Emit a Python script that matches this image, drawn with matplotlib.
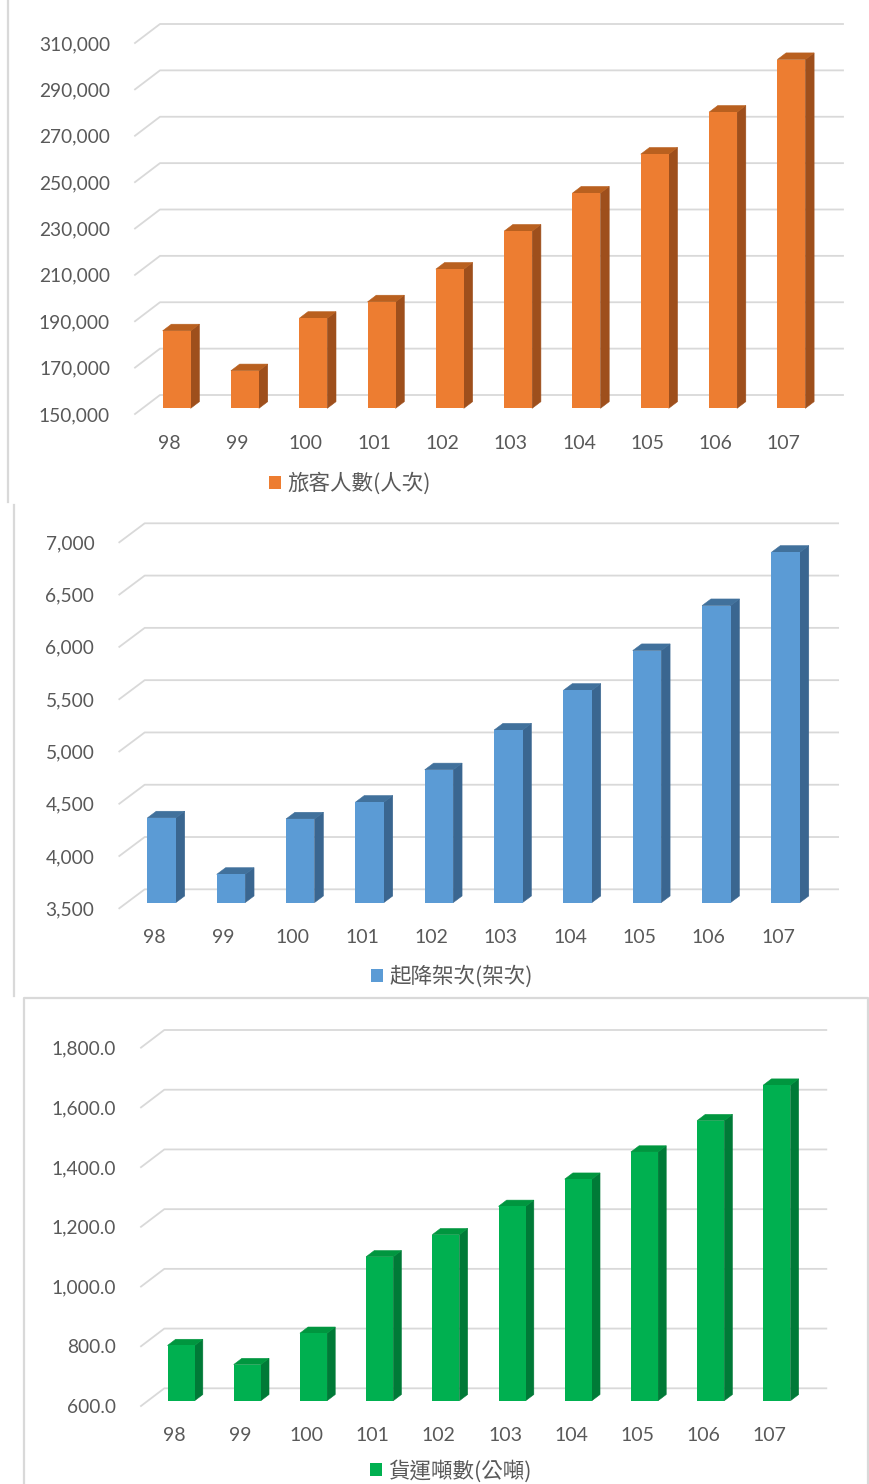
import matplotlib
matplotlib.use("Agg")
import matplotlib.pyplot as plt
from matplotlib.patches import Rectangle, Polygon, Patch

years = ["98", "99", "100", "101", "102", "103", "104", "105", "106", "107"]

passengers = [183400, 166200, 188800, 195900, 210000, 226400, 242800, 259600, 277700, 300400]
flights = [4310, 3770, 4300, 4460, 4770, 5150, 5530, 5910, 6340, 6850]
cargo = [785, 721, 826, 1082, 1156, 1251, 1342, 1433, 1538, 1657]

passenger_ticks = list(range(150000, 310001, 20000))
flight_ticks = list(range(3500, 7001, 500))
cargo_ticks = list(range(600, 1801, 200))

W, H = 870, 1484
fig = plt.figure(figsize=(W / 100, H / 100), dpi=100)
fig.patch.set_facecolor("white")

GRID = "#d9d9d9"
TEXT = "#595959"
NUM_FONT = ["Lato", "DejaVu Sans"]
CJK_FONT = ["Noto Sans CJK TC", "DejaVu Sans"]


def panel(box, values, ticks, fmt, colors, depth, label, legend_xy):
    # box = (left, top, width, height) of the front plane in pixels
    left, top, width, height = box
    ax = fig.add_axes([left / W, 1 - (top + height) / H, width / W, height / H])
    ax.set_xlim(-0.5, len(values) - 0.5)
    ax.set_ylim(ticks[0], ticks[-1])
    ax.set_facecolor("none")
    for s in ax.spines.values():
        s.set_visible(False)

    # pixel depth of the box -> data units
    px_x = width / len(values)
    px_y = height / (ticks[-1] - ticks[0])
    DX = depth[0] / px_x
    DY = depth[1] / px_y

    # gridlines on the floor edge and back wall
    x0, x1 = -0.5, len(values) - 0.5
    for v in ticks:
        ax.plot([x0, x0 + DX, x1 + DX], [v, v + DY, v + DY],
                color=GRID, lw=1.3, clip_on=False, zorder=1)

    front, side, cap = colors
    f0, f1 = 0.30, 0.65
    bw = 0.41
    base = ticks[0]
    for i, v in enumerate(values):
        xl = i + f0 * DX - bw / 2
        xr = xl + bw
        yb = base + f0 * DY
        yt = v + f0 * DY
        ox, oy = (f1 - f0) * DX, (f1 - f0) * DY
        ax.add_patch(Polygon([(xr, yb), (xr, yt), (xr + ox, yt + oy), (xr + ox, yb + oy)],
                             closed=True, facecolor=side, edgecolor=side, lw=0.4,
                             clip_on=False, zorder=3))
        ax.add_patch(Polygon([(xl, yt), (xr, yt), (xr + ox, yt + oy), (xl + ox, yt + oy)],
                             closed=True, facecolor=cap, edgecolor=cap, lw=0.4,
                             clip_on=False, zorder=3))
        ax.add_patch(Rectangle((xl, yb), bw, yt - yb, facecolor=front,
                               edgecolor="none", clip_on=False, zorder=4))

    ax.set_yticks(ticks)
    ax.set_yticklabels([fmt.format(t) for t in ticks], fontfamily=NUM_FONT,
                       fontsize=13.8, color=TEXT)
    ax.set_xticks(range(len(values)))
    ax.set_xticklabels(years, fontfamily=NUM_FONT, fontsize=14, color=TEXT)
    ax.tick_params(axis="y", length=0, pad=18)
    ax.tick_params(axis="x", length=0, pad=15)

    fig.legend(handles=[Patch(facecolor=front, edgecolor="none", label=label)],
               loc="center", bbox_to_anchor=(legend_xy[0] / W, 1 - legend_xy[1] / H),
               frameon=False, prop={"family": CJK_FONT, "size": 15.5},
               labelcolor=TEXT, handlelength=0.55, handleheight=0.55,
               handletextpad=0.3)
    return ax


panel((135, 43, 683, 371), passengers, passenger_ticks, "{:,}",
      ("#ed7d31", "#9e4f1c", "#b9601f"), (25, 19), "旅客人數(人次)", (350, 484))
panel((119.3, 542.3, 693.4, 366), flights, flight_ticks, "{:,}",
      ("#5b9bd5", "#3a6690", "#41719c"), (25.4, 19), "起降架次(架次)", (452, 977))
panel((141, 1047.7, 662, 358.3), cargo, cargo_ticks, "{:,.1f}",
      ("#00b050", "#007a37", "#00963f"), (23.3, 17.7), "貨運噸數(公噸)", (451, 1471))

# chart-area borders
border = dict(color=GRID, lw=1.6, transform=fig.transFigure)
fig.add_artist(plt.Line2D([8 / W, 8 / W], [1, 1 - 502 / H], **border))
fig.add_artist(plt.Line2D([14 / W, 14 / W], [1 - 505 / H, 1 - 996 / H], **border))
fig.add_artist(plt.Line2D([24 / W, 24 / W, 868 / W, 868 / W],
                          [0, 1 - 998 / H, 1 - 998 / H, 0], **border))

fig.savefig("out.png", dpi=100, facecolor="white")
